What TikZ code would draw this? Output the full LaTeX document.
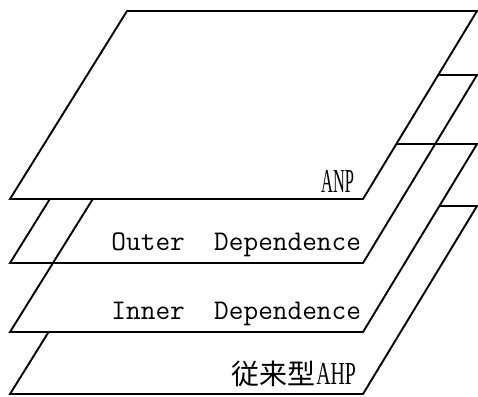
\documentclass[tikz,border=0pt]{standalone}
\usepackage{fontspec}
\newfontfamily\cjk{Noto Sans CJK JP}
\newfontfamily\condserif{Liberation Serif}
\tikzset{
  layer/.style={draw=black, line width=1.9pt, line join=miter},
  opaque/.style={layer, fill=white},
  lbl/.style={anchor=base east, inner sep=0pt, outer sep=0pt},
  mono/.style={lbl, font=\fontsize{28.5}{30}\selectfont\ttfamily},
}
\newcommand{\plane}[2]{% #1 style, #2 bottom y
  \path[#1] (10,#2) -- (363,#2) -- (477,#2-188) -- (127,#2-188) -- cycle;
}
\begin{document}
\begin{tikzpicture}[x=1pt,y=-1pt]
\useasboundingbox (0,0) rectangle (478,396);
% bottom layer: AHP
\plane{opaque}{394}
% Inner dependence
\plane{opaque}{332}
% Outer dependence (transparent)
\plane{layer}{263}
% ANP (top)
\plane{opaque}{199}
\node[lbl, font=\condserif\fontsize{33.5}{35}\selectfont] (anp) at (354,192) {\scalebox{0.49}[1]{ANP}};
\node[mono] (outer) at (361,250) {Outer\ \ Dependence};
\node[mono] (inner) at (361,319) {Inner\ \ Dependence};
\node[lbl, font=\condserif\fontsize{32}{34}\selectfont] (ahp) at (356,384) {{\cjk\fontsize{28}{30}\selectfont 従来型}\kern1pt\scalebox{0.62}[1]{AHP}};
\end{tikzpicture}
\end{document}
